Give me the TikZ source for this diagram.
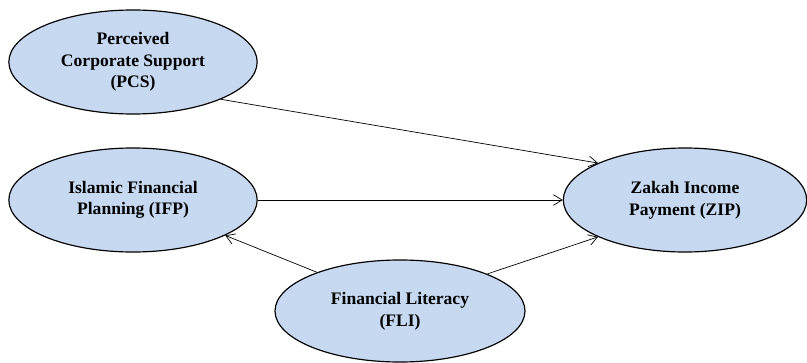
\documentclass[tikz,border=0pt]{standalone}
\usepackage{fontspec}
\setmainfont{Liberation Serif}
\usepackage{tikz}
\usetikzlibrary{shapes.geometric}
\usetikzlibrary{arrows.meta}
\definecolor{ovalblue}{RGB}{198,217,240}

\begin{document}
\begin{tikzpicture}[
            x = 0.03cm, y = -0.03cm, % one unit per pixel
            > = {Straight Barb[length=2.6mm, width=3.2mm]}, % open arrow head
            semithick % line style
        ]

        \tikzstyle{construct}=[
            ellipse,
            draw = black,
            line width = 1pt,
            fill = ovalblue,
            minimum width = 7.45cm,
            minimum height = 3.12cm,
            align = center,
            font = \fontsize{15}{18.5}\selectfont\bfseries
        ]

        \useasboundingbox (0,0) rectangle (807,363);

	% constructs
        \node[construct] (PCS) at (133,62) {Perceived\\Corporate Support\\(PCS)};
        \node[construct] (IFP) at (133,200) {Islamic Financial\\Planning (IFP)};
        \node[construct, minimum width = 7.3cm] (ZIP) at (685,200) {Zakah Income\\Payment (ZIP)};
        \node[construct, minimum width = 7.5cm, minimum height = 3.06cm] (FLI) at (400,311) {Financial Literacy\\(FLI)};

        % paths
        \draw[->] (PCS.-23) -- (ZIP.157);
        \draw[->] (IFP.east) -- (ZIP.west);
        \draw[->] (FLI.155) -- (IFP.-21);
        \draw[->] (FLI.23) -- (ZIP.203);

  \end{tikzpicture}
\end{document}
